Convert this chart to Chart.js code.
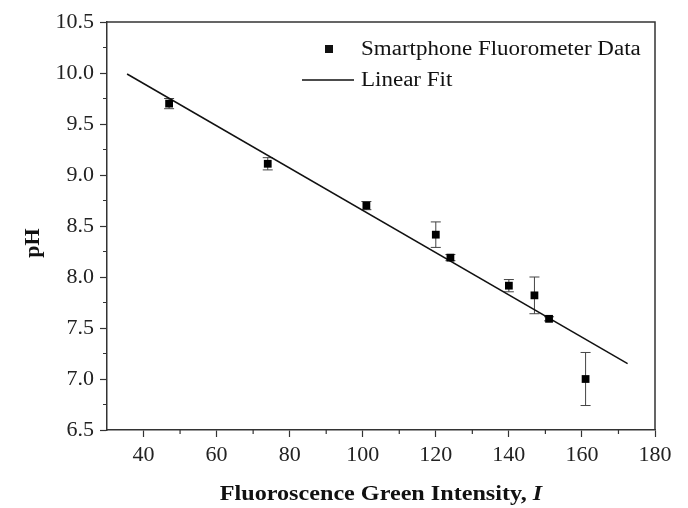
<!DOCTYPE html>
<html>
<head>
<meta charset="utf-8">
<script src="https://cdn.jsdelivr.net/npm/chart.js@4.4.0/dist/chart.umd.min.js"></script>
<style>
  html, body { margin: 0; padding: 0; background: #fff; }
  #wrap { width: 688px; height: 508px; }
</style>
</head>
<body>
<div id="wrap"><canvas id="myChart"></canvas></div>
<script>
// values
const intensity = [47, 74, 101, 120, 124, 140, 147, 151, 161];
const phValues = [9.70, 9.11, 8.70, 8.415, 8.19, 7.915, 7.82, 7.59, 7.00];
const phErrors = [0.05, 0.06, 0.04, 0.125, 0.03, 0.06, 0.18, 0.02, 0.26];
const fitX = [35.5, 172.5];
const fitY = [9.99, 7.15];
const xTicks = [40, 60, 80, 100, 120, 140, 160, 180];
const yTicks = [6.5, 7.0, 7.5, 8.0, 8.5, 9.0, 9.5, 10.0, 10.5];

const SERIF = '"Liberation Serif", "Times New Roman", serif';
const AXIS = '#333';
const STRETCH = 1.15; // the reference text is a little wide

function wideText(ctx, text, x, y) {
    ctx.save();
    ctx.translate(x, y);
    ctx.scale(STRETCH, 1);
    ctx.fillText(text, 0, 0);
    ctx.restore();
    return ctx.measureText(text).width * STRETCH;
}

// error bars, box, minor ticks, legend and axis titles
const extras = {
    id: 'extras',
    beforeDatasetsDraw(chart) {
        let ctx = chart.ctx;
        let xs = chart.scales.x, ys = chart.scales.y;
        ctx.save();
        ctx.strokeStyle = '#444';
        ctx.lineWidth = 1;
        intensity.forEach((v, i) => {
            let px = xs.getPixelForValue(v);
            let top = ys.getPixelForValue(phValues[i] + phErrors[i]);
            let bot = ys.getPixelForValue(phValues[i] - phErrors[i]);
            ctx.beginPath();
            ctx.moveTo(px, top); ctx.lineTo(px, bot);
            ctx.moveTo(px - 5, top); ctx.lineTo(px + 5, top);
            ctx.moveTo(px - 5, bot); ctx.lineTo(px + 5, bot);
            ctx.stroke();
        });
        ctx.restore();
    },
    afterDraw(chart) {
        let ctx = chart.ctx;
        let a = chart.chartArea;
        let xs = chart.scales.x, ys = chart.scales.y;
        ctx.save();
        // top and right frame
        ctx.strokeStyle = AXIS;
        ctx.lineWidth = 1.5;
        ctx.beginPath();
        ctx.moveTo(a.left, a.top); ctx.lineTo(a.right, a.top); ctx.lineTo(a.right, a.bottom);
        ctx.stroke();
        // minor ticks
        ctx.lineWidth = 1.2;
        ctx.beginPath();
        for (let v = 50; v < 180; v += 20) {
            let px = xs.getPixelForValue(v);
            ctx.moveTo(px, a.bottom); ctx.lineTo(px, a.bottom + 4);
        }
        for (let v = 6.75; v < 10.5; v += 0.5) {
            let py = ys.getPixelForValue(v);
            ctx.moveTo(a.left, py); ctx.lineTo(a.left - 4, py);
        }
        ctx.stroke();

        // legend
        ctx.fillStyle = '#111';
        ctx.font = '20px ' + SERIF;
        ctx.textBaseline = 'middle';
        ctx.textAlign = 'left';
        ctx.fillRect(325, 45, 8, 8);
        wideText(ctx, 'Smartphone Fluorometer Data', 361, 50);
        ctx.strokeStyle = '#111';
        ctx.lineWidth = 1.5;
        ctx.beginPath();
        ctx.moveTo(302, 80); ctx.lineTo(354, 80);
        ctx.stroke();
        wideText(ctx, 'Linear Fit', 361, 81);

        // x title
        let t1 = 'Fluoroscence Green Intensity, ';
        ctx.font = 'bold 21px ' + SERIF;
        let w1 = ctx.measureText(t1).width * STRETCH;
        ctx.font = 'italic bold 21px ' + SERIF;
        let w2 = ctx.measureText('I').width * STRETCH;
        let sx = (a.left + a.right) / 2 - (w1 + w2) / 2;
        ctx.font = 'bold 21px ' + SERIF;
        wideText(ctx, t1, sx, 495);
        ctx.font = 'italic bold 21px ' + SERIF;
        wideText(ctx, 'I', sx + w1, 495);

        // y title
        ctx.translate(33, 243);
        ctx.rotate(-Math.PI / 2);
        ctx.textAlign = 'center';
        ctx.font = 'bold 22px ' + SERIF;
        ctx.fillText('pH', 0, 0);
        ctx.restore();
    }
};

let ctx = document.getElementById('myChart');
new Chart(ctx, {
    type: 'scatter',
    data: {
        datasets: [{
            label: 'Smartphone Fluorometer Data',
            data: intensity.map((v, i) => ({ x: v, y: phValues[i] })),
            pointStyle: 'rect',
            pointRadius: 5.5,
            backgroundColor: '#000',
            borderColor: '#000',
            borderWidth: 0,
            order: 0
        }, {
            type: 'line',
            label: 'Linear Fit',
            data: fitX.map((v, i) => ({ x: v, y: fitY[i] })),
            borderColor: '#111',
            borderWidth: 1.5,
            pointRadius: 0,
            fill: false,
            order: 1
        }]
    },
    options: {
        responsive: true,
        maintainAspectRatio: false,
        animation: false,
        layout: { padding: { top: 22, right: 33, left: 0, bottom: 0 } },
        plugins: {
            legend: { display: false },
            tooltip: { enabled: false }
        },
        scales: {
            x: {
                type: 'linear',
                min: 30,
                max: 180,
                afterBuildTicks: s => { s.ticks = xTicks.map(v => ({ value: v })); },
                ticks: {
                    color: '#222',
                    font: { family: SERIF, size: 22 },
                    padding: 5,
                    maxRotation: 0
                },
                grid: { drawOnChartArea: false, tickLength: 7, tickColor: AXIS, tickWidth: 1.2 },
                border: { color: AXIS, width: 1.5 },
                afterFit: s => { s.height = 78; }
            },
            y: {
                type: 'linear',
                min: 6.5,
                max: 10.5,
                afterBuildTicks: s => { s.ticks = yTicks.map(v => ({ value: v })); },
                ticks: {
                    color: '#222',
                    font: { family: SERIF, size: 22 },
                    padding: 6,
                    callback: v => v.toFixed(1)
                },
                grid: { drawOnChartArea: false, tickLength: 7, tickColor: AXIS, tickWidth: 1.2 },
                border: { color: AXIS, width: 1.5 },
                afterFit: s => { s.width = 107; }
            }
        }
    },
    plugins: [extras]
});
</script>
</body>
</html>
